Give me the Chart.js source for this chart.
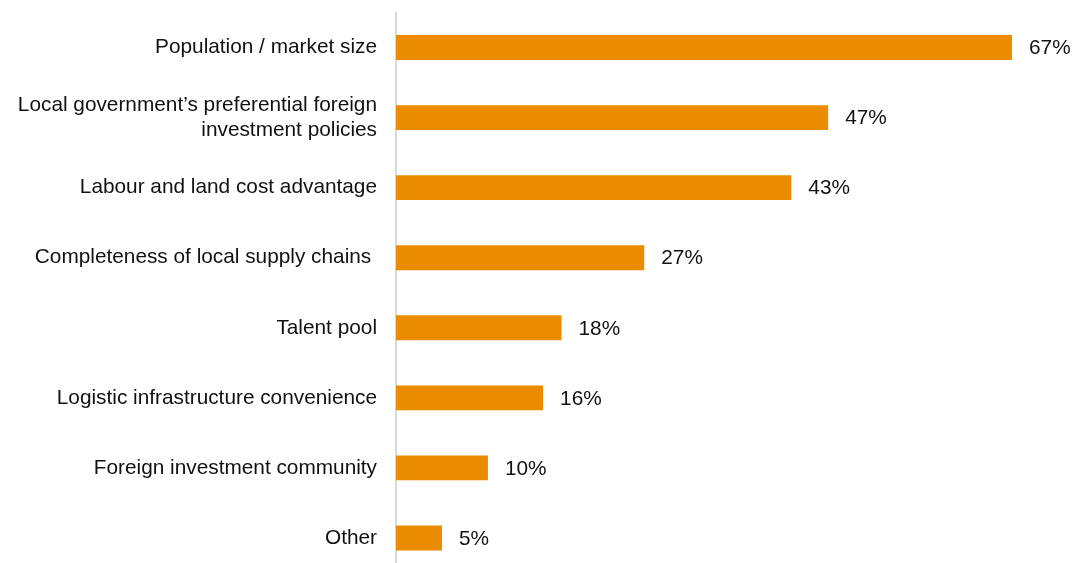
<!DOCTYPE html>
<html>
<head>
<meta charset="utf-8">
<script src="https://cdn.jsdelivr.net/npm/chart.js@4/dist/chart.umd.min.js"></script>
<style>
  html, body { margin: 0; padding: 0; background: #ffffff; overflow: hidden; }
  #wrap { position: relative; width: 1072px; height: 573px; }
</style>
</head>
<body>
<div id="wrap"><canvas id="chart" width="1072" height="573"></canvas></div>
<script>
// Reasons for choosing the location (share of respondents, %)
const categories = [
  'Population / market size',
  ['Local government\u2019s preferential foreign', 'investment policies'],
  'Labour and land cost advantage',
  'Completeness of local supply chains ',
  'Talent pool',
  'Logistic infrastructure convenience',
  'Foreign investment community',
  'Other'
];
const shares = [67, 47, 43, 27, 18, 16, 10, 5];
const valueLabels = ['67%', '47%', '43%', '27%', '18%', '16%', '10%', '5%'];

const FONT = { family: '"Liberation Sans", Arial, Helvetica, sans-serif', size: 20.8, lineHeight: 1.2 };
const TEXT = '#111111';
const BAR = '#EB8C00';

// Writes the percentage just to the right of each bar
const valueLabelPlugin = {
  id: 'valueLabels',
  afterDatasetsDraw(chart) {
    const ctx = chart.ctx;
    const meta = chart.getDatasetMeta(0);
    ctx.save();
    ctx.font = `${FONT.size}px ${FONT.family}`;
    ctx.fillStyle = TEXT;
    ctx.textAlign = 'left';
    ctx.textBaseline = 'middle';
    meta.data.forEach((bar, i) => {
      ctx.fillText(valueLabels[i], bar.x + 17, bar.y + 1);
    });
    ctx.restore();
  }
};

new Chart(document.getElementById('chart'), {
  type: 'bar',
  data: {
    labels: categories,
    datasets: [{
      data: shares,
      backgroundColor: BAR,
      borderWidth: 0,
      barPercentage: 0.355,
      categoryPercentage: 1
    }]
  },
  options: {
    indexAxis: 'y',
    responsive: false,
    animation: false,
    layout: { padding: { top: 12.5, right: 32.4, bottom: 0, left: 0 } },
    plugins: {
      legend: { display: false },
      tooltip: { enabled: false }
    },
    scales: {
      x: {
        display: false,
        min: 0,
        max: 70
      },
      y: {
        afterFit(scale) {
          // fixed label column; no extra room above/below the first and last rows
          scale.width = 396;
          scale.paddingTop = 0;
          scale.paddingBottom = 0;
        },
        grid: { display: false, drawTicks: false, tickLength: 0 },
        border: { display: true, color: '#d9d9d9', width: 2 },
        ticks: {
          padding: 19,
          color: TEXT,
          font: FONT,
          autoSkip: false
        }
      }
    }
  },
  plugins: [valueLabelPlugin]
});
</script>
</body>
</html>
